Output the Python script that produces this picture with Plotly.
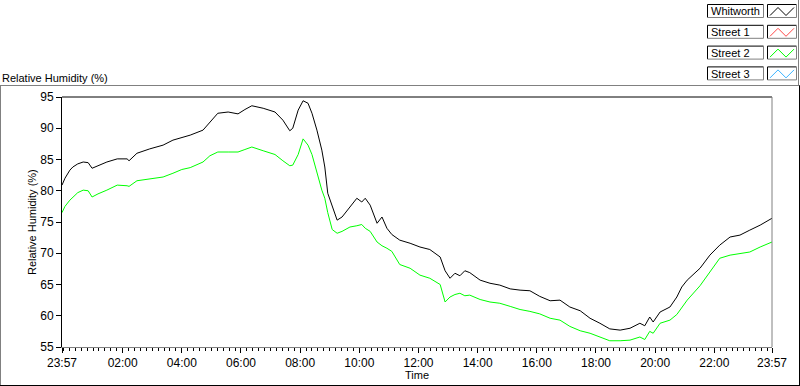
import datetime as dt
import plotly.graph_objects as go

# ---------------- data ----------------
times = ["23:57", "00:03", "00:13", "00:19", "00:29", "00:40", "00:50", "00:58", "01:10", "01:28",
         "01:49", "02:09", "02:13", "02:29", "02:55", "03:22", "03:42", "04:00", "04:17", "04:43",
         "04:57", "05:13", "05:34", "05:54", "06:08", "06:22", "06:45", "07:09", "07:25", "07:39",
         "07:45", "07:56", "08:06", "08:16", "08:24", "08:34", "08:44", "08:50", "08:56", "09:05",
         "09:15", "09:25", "09:41", "09:55", "10:05", "10:12", "10:22", "10:36", "10:46", "10:56",
         "11:06", "11:22", "11:43", "12:03", "12:23", "12:44", "12:54", "13:04", "13:14", "13:24",
         "13:34", "13:44", "14:05", "14:25", "14:45", "15:06", "15:26", "15:46", "16:06", "16:27",
         "16:47", "17:07", "17:28", "17:48", "18:08", "18:28", "18:49", "19:09", "19:29", "19:39",
         "19:49", "19:56", "20:10", "20:30", "20:44", "20:54", "21:05", "21:31", "21:51", "22:11",
         "22:32", "22:52", "23:12", "23:33", "23:57"]

whitworth = [80.9, 82.0, 83.3, 83.8, 84.3, 84.6, 84.5, 83.6, 84.0, 84.6,
             85.1, 85.1, 84.8, 86.0, 86.7, 87.3, 88.1, 88.5, 88.9, 89.7,
             91.0, 92.4, 92.6, 92.3, 93.0, 93.6, 93.2, 92.6, 91.3, 89.6,
             90.0, 92.9, 94.4, 94.0, 92.4, 89.7, 86.5, 83.8, 79.6, 77.4,
             75.3, 75.8, 77.4, 78.8, 78.2, 78.8, 77.7, 74.8, 75.8, 74.0,
             73.0, 72.1, 71.6, 71.0, 70.6, 69.4, 67.2, 66.0, 66.8, 66.4,
             67.2, 66.9, 65.7, 65.2, 64.9, 64.3, 64.1, 64.0, 63.1, 62.4,
             62.5, 61.4, 60.8, 59.6, 58.8, 57.9, 57.7, 58.0, 58.8, 58.4,
             59.8, 59.0, 60.6, 61.4, 63.0, 64.6, 65.7, 67.6, 69.7, 71.3,
             72.6, 72.9, 73.7, 74.5, 75.6]

street2 = [76.5, 77.5, 78.5, 79.0, 79.7, 80.1, 80.0, 79.0, 79.5, 80.1,
           80.9, 80.8, 80.7, 81.6, 81.9, 82.2, 82.8, 83.4, 83.7, 84.6,
           85.6, 86.2, 86.2, 86.2, 86.6, 87.0, 86.4, 85.8, 84.8, 84.0,
           84.1, 85.8, 88.3, 87.3, 85.8, 82.8, 80.1, 78.8, 76.5, 73.8,
           73.2, 73.5, 74.2, 74.4, 74.6, 74.0, 73.5, 71.8, 71.2, 70.8,
           70.3, 68.2, 67.6, 66.5, 66.0, 65.0, 62.2, 63.0, 63.4, 63.6,
           63.2, 63.3, 62.6, 62.2, 62.0, 61.5, 61.0, 60.7, 60.3, 59.6,
           59.3, 58.3, 57.6, 57.2, 56.6, 56.0, 56.0, 56.1, 56.6, 56.2,
           57.5, 57.2, 58.8, 59.3, 60.2, 61.3, 62.5, 64.8, 67.0, 69.2,
           69.7, 69.9, 70.2, 71.0, 71.8]

legend_names = ["Whitworth", "Street 1", "Street 2", "Street 3"]
legend_colors = ["#000000", "#ff4848", "#00ff00", "#3cb4ff"]

x_tick_labels = ["23:57", "02:00", "04:00", "06:00", "08:00", "10:00", "12:00",
                 "14:00", "16:00", "18:00", "20:00", "22:00", "23:57"]
y_tick_values = [55, 60, 65, 70, 75, 80, 85, 90, 95]

# ---------------- build datetimes ----------------
day1 = dt.date(2024, 1, 1)
day2 = dt.date(2024, 1, 2)


def to_dt(s, first):
    h, m = map(int, s.split(":"))
    return dt.datetime.combine(day1 if first else day2, dt.time(h, m))


x_times = [to_dt(s, i == 0) for i, s in enumerate(times)]
tick_dts = [to_dt(s, i == 0) for i, s in enumerate(x_tick_labels)]

FONT = "Liberation Sans"
W, H = 800, 386
L, R, T, B = 62, 28, 97, 39
PW, PH = W - L - R, H - T - B


def px(x):
    return (x - L) / PW


def py(y):
    return (H - B - y) / PH


fig = go.Figure()
fig.add_trace(go.Scatter(x=x_times, y=whitworth, mode="lines", name="Whitworth",
                         line=dict(color=legend_colors[0], width=1)))
fig.add_trace(go.Scatter(x=x_times, y=street2, mode="lines", name="Street 2",
                         line=dict(color=legend_colors[2], width=1)))

shapes = []
GRAY = "#808080"


def line(x0, y0, x1, y1, color, w=1):
    shapes.append(dict(type="line", xref="paper", yref="paper",
                       x0=px(x0), y0=py(y0), x1=px(x1), y1=py(y1),
                       line=dict(color=color, width=w)))


# plot area border: top black, right gray
line(L, T, W - R, T, "black")
line(W - R, T, W - R, H - B, GRAY)

# outer frame
line(0, 85.5, W, 85.5, GRAY)
line(0.5, 85.5, 0.5, H, GRAY)
line(799.5, 85.5, 799.5, H, "black")
line(0, 385.5, W, 385.5, "black")
line(798.5, 0, 798.5, 85.5, GRAY)

annotations = []
# legend
for i, (name, col) in enumerate(zip(legend_names, legend_colors)):
    top = 4.5 + 20.8 * i
    bot = top + 13
    # label box
    line(707.5, top, 763.5, top, "black")
    line(707.5, top, 707.5, bot, "black")
    line(707.5, bot, 763.5, bot, GRAY)
    line(763.5, top, 763.5, bot, GRAY)
    # sample box
    line(767.5, top, 796.5, top, "black")
    line(767.5, top, 767.5, bot, "black")
    line(767.5, bot, 796.5, bot, GRAY)
    line(796.5, top, 796.5, bot, GRAY)
    zx = [770, 778, 786, 794]
    zy = [bot - 2, top + 3, bot - 2, top + 3]
    path = "M {} {} ".format(px(zx[0]), py(zy[0])) + " ".join(
        "L {} {}".format(px(a), py(b)) for a, b in zip(zx[1:], zy[1:]))
    shapes.append(dict(type="path", xref="paper", yref="paper", path=path,
                       line=dict(color=col, width=1)))
    annotations.append(dict(text=name, xref="paper", yref="paper", x=px(709),
                            y=py((top + bot) / 2 + 0.5), xanchor="left", yanchor="middle",
                            showarrow=False, font=dict(family=FONT, size=11, color="black")))

annotations.append(dict(text="Relative Humidity (%)", xref="paper", yref="paper",
                        x=px(0), y=py(78), xanchor="left", yanchor="middle", showarrow=False,
                        font=dict(family=FONT, size=11, color="black")))
annotations.append(dict(text="Relative Humidity (%)", xref="paper", yref="paper",
                        x=px(32), y=0.5, xanchor="center", yanchor="middle", textangle=-90,
                        showarrow=False, font=dict(family=FONT, size=11, color="black")))
annotations.append(dict(text="Time", xref="paper", yref="paper",
                        x=0.5, y=py(375), xanchor="center", yanchor="middle", showarrow=False,
                        font=dict(family=FONT, size=11, color="black")))

fig.update_layout(
    width=W, height=H,
    margin=dict(l=L, r=R, t=T, b=B, pad=0),
    paper_bgcolor="white", plot_bgcolor="white",
    showlegend=False,
    shapes=shapes, annotations=annotations,
    font=dict(family=FONT, size=11, color="black"),
    xaxis=dict(range=[tick_dts[0], tick_dts[-1]], tickmode="array", tickvals=tick_dts,
               ticktext=x_tick_labels, ticks="outside", ticklen=5, tickcolor="black",
               showline=True, linecolor=GRAY, linewidth=1, showgrid=False, zeroline=False,
               tickfont=dict(family=FONT, size=12),
               minor=dict(ticks="outside", ticklen=3, tickcolor="black", dtick=12 * 60 * 1000,
                          tick0=dt.datetime(2024, 1, 2, 0, 0), showgrid=False)),
    yaxis=dict(range=[55, 95], tickmode="array", tickvals=y_tick_values, ticks="outside",
               ticklen=5, tickcolor="black", showline=True, linecolor="black", linewidth=1,
               showgrid=False, zeroline=False, tickfont=dict(family=FONT, size=12)),
)

fig.write_html("out.html", config={"displayModeBar": False},
               post_script="document.body.style.margin='0';document.body.style.overflow='hidden';")
